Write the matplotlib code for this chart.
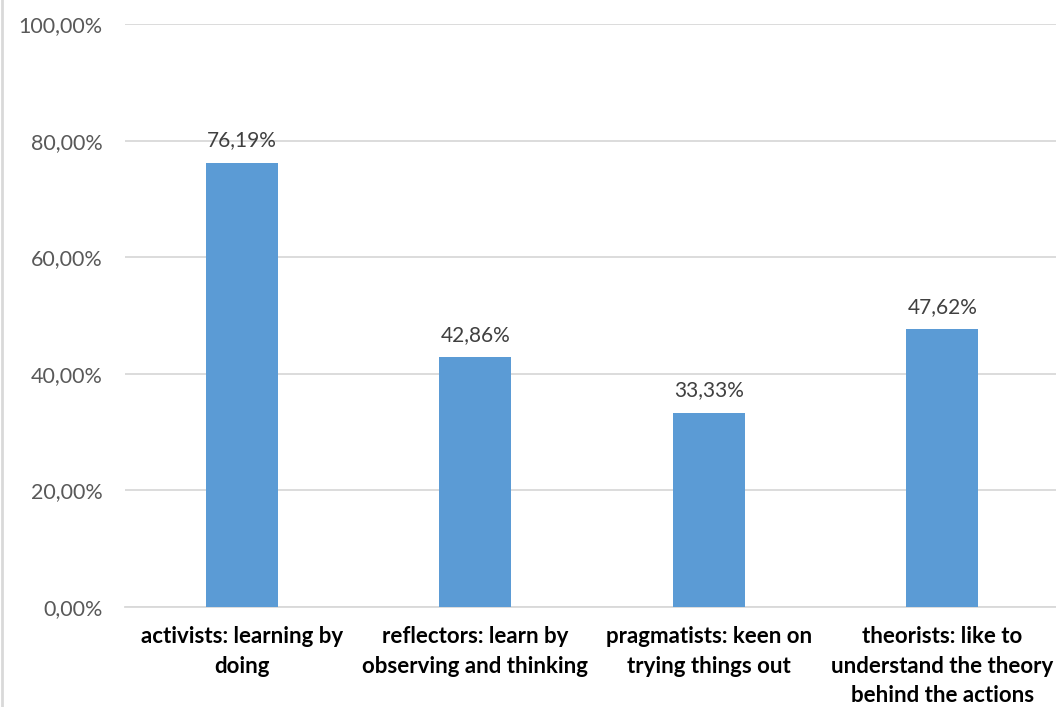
import numpy as np
import matplotlib
matplotlib.use("Agg")
import matplotlib.pyplot as plt
from matplotlib.lines import Line2D
from matplotlib.ticker import FuncFormatter

categories = ["activists: learning by\ndoing",
              "reflectors: learn by\nobserving and thinking",
              "pragmatists: keen on\ntrying things out",
              "theorists: like to\nunderstand the theory\nbehind the actions"]
values = [0.7619, 0.4286, 0.3333, 0.4762]

plt.rcParams['font.family'] = ['Lato', 'DejaVu Sans']

fig = plt.figure(figsize=(10.56, 7.07), dpi=100)
ax = fig.add_axes([125 / 1056, 1 - 607 / 707, 934 / 1056, (607 - 24) / 707])

x = np.arange(len(categories))
bars = ax.bar(x, values, width=0.31, color="#5B9BD5", zorder=3)

for xi, v in zip(x, values):
    ax.annotate(f"{v * 100:.2f}%".replace(".", ","), (xi, v),
                xytext=(0, 9), textcoords="offset points",
                ha="center", va="bottom", fontsize=15, color="#404040")

ax.set_xlim(-0.5, len(categories) - 0.5)
ax.set_ylim(0, 1.0)
ax.set_yticks(np.arange(0, 1.01, 0.2))
ax.yaxis.set_major_formatter(FuncFormatter(lambda v, p: f"{v * 100:.2f}%".replace(".", ",")))
ax.grid(axis="y", color="#D9D9D9", linewidth=1.3, zorder=0)

ax.set_xticks(x)
ax.set_xticklabels(categories, fontsize=16, fontweight="bold", color="black",
                   linespacing=1.5)
ax.tick_params(axis="x", length=0, pad=14)
ax.tick_params(axis="y", length=0, pad=16, labelsize=15.5, labelcolor="#595959")

for side in ["top", "right", "left"]:
    ax.spines[side].set_visible(False)
ax.spines["bottom"].set_color("#D9D9D9")
ax.spines["bottom"].set_linewidth(1.3)

fig.add_artist(Line2D([1.5 / 1056, 1.5 / 1056], [0, 1], color="#D9D9D9",
                      linewidth=2, transform=fig.transFigure))

fig.savefig("out.png", dpi=100)
